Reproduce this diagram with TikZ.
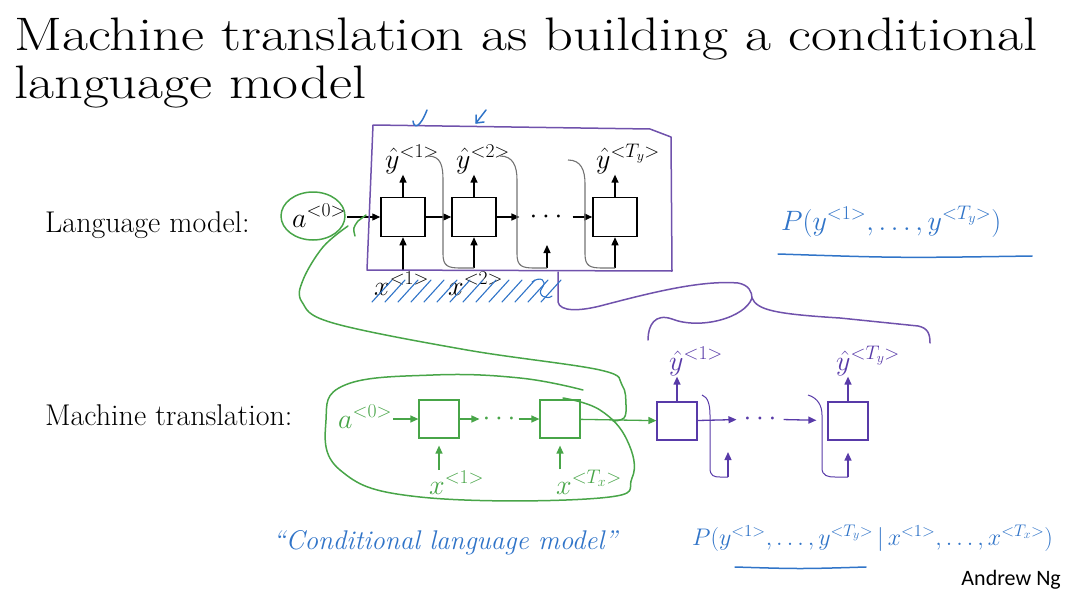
\documentclass[tikz,border=0pt]{standalone}
\usepackage{fix-cm}
\usepackage{fontspec}
\newfontfamily\ngfont{Carlito}
\usetikzlibrary{arrows.meta,positioning}

\definecolor{boxpurple}{RGB}{112,82,172}
\definecolor{decpurple}{RGB}{88,58,168}
\definecolor{pengreen}{RGB}{72,165,72}
\definecolor{penblue}{RGB}{48,116,200}

\begin{document}
\begin{tikzpicture}[
    x=1pt, y=-1pt,
    >={Triangle[length=8pt,width=7pt]},
    % --- node styles -------------------------------------------------
    title/.style={anchor=base west, inner sep=0pt,
        font=\fontsize{47}{50}\selectfont},
    lbl/.style={anchor=base west, inner sep=1pt,
        font=\fontsize{28}{30}\selectfont},
    rowlbl/.style={anchor=base west, inner sep=0pt,
        font=\fontsize{30}{32}\selectfont},
    cell/.style={draw, line width=1.5pt, minimum width=44pt,
        minimum height=39pt, inner sep=0pt},
    smallcell/.style={cell, line width=1.2pt, minimum width=40pt,
        minimum height=38pt},
    dots/.style={inner sep=0pt, font=\fontsize{28}{30}\selectfont},
    % --- line styles -------------------------------------------------
    arr/.style={->, line width=1.3pt},
    feed/.style={draw=black!55, line width=1.1pt},
    pen/.style={line width=1.5pt, line cap=round, line join=round}
]
\useasboundingbox (0,0) rectangle (1081,602);

% --- title --------------------------------------------------------
\node[title] (title1) at (14,51)
    {\scalebox{1.2}[1]{Machine translation as building a conditional}};
\node[title] (title2) at (14,99) {\scalebox{1.2}[1]{language model}};

% --- row labels ---------------------------------------------------
\node[rowlbl] (lmlabel) at (45,232) {Language model:};
\node[rowlbl] (mtlabel) at (45,425) {Machine translation:};

% --- language model RNN -------------------------------------------
\node[cell] (lm1) at (403,217) {};
\node[cell] (lm2) at (474,217) {};
\node[dots, inner xsep=10pt] (lmdots) at (546,217) {$\cdots$};
\node[cell] (lm3) at (615,217) {};

\node[lbl] (lma0) at (291,227) {$a^{<0>}$};
\node[lbl] (lmy1) at (384,168) {$\hat{y}^{<1>}$};
\node[lbl] (lmy2) at (455,168) {$\hat{y}^{<2>}$};
\node[lbl] (lmy3) at (595,168) {$\hat{y}^{<T_y>}$};
\node[lbl] (lmx1) at (373,295) {$x^{<1>}$};
\node[lbl] (lmx2) at (447,295) {$x^{<2>}$};

\draw[arr] (lma0.east |- lm1.west) -- (lm1.west);
\draw[arr] (lm1) -- (lm2);
\draw[arr] (lm2) -- (lmdots);
\draw[arr] (lmdots) -- (lm3);

\draw[arr] (lm1) -- (lm1 |- lmy1.south);
\draw[arr] (lm2) -- (lm2 |- lmy2.south);
\draw[arr] (lm3) -- (lm3 |- lmy3.south);

% inputs fed back from the previous output
\coordinate (lmin2) at (474,268);
\coordinate (lmind) at (547,268);
\coordinate (lmdtip) at (547,245);
\coordinate (lmin3) at (615,268);
\draw[arr] (lm1 |- lmx1.north) -- (lm1);
\draw[arr] (lmin2) -- (lm2);
\draw[arr] (lmind) -- (lmdtip);
\draw[arr] (lmin3) -- (lm3);

\draw[feed] (428,156) .. controls (441,156) and (443,166) .. (443,180)
    -- (443,254) .. controls (443,266) and (448,268) .. (460,268) -- (lmin2);
\draw[feed] (500,156) .. controls (513,156) and (517,166) .. (517,180)
    -- (517,254) .. controls (517,266) and (522,268) .. (534,268) -- (lmind);
\draw[feed] (568,160) .. controls (581,160) and (585,170) .. (585,184)
    -- (585,254) .. controls (585,266) and (590,268) .. (602,268) -- (lmin3);

% --- purple box and braces ----------------------------------------
\draw[boxpurple, pen] (373,125) -- (650,129) -- (671,137) -- (672,271)
    -- (367,270) -- cycle;
\draw[boxpurple, pen] (558,272) -- (558,302)
    .. controls (560,312) and (580,311) .. (600,306)
    .. controls (650,293) and (700,280) .. (738,283)
    .. controls (749,285) and (752,292) .. (752,298);
\draw[boxpurple, pen] (752,298) .. controls (745,318) and (700,330) .. (672,319)
    .. controls (655,313) and (648,325) .. (648,340);
\draw[boxpurple, pen] (752,298) .. controls (757,310) and (775,314) .. (840,318)
    -- (918,326) .. controls (928,328) and (930,334) .. (930,343);

% --- blue pen marks -----------------------------------------------
\foreach \x in {372,385,...,550}
    \draw[penblue, pen, line width=1.1pt] (\x,302) -- (\x+20,280);
\draw[penblue, pen, line width=1.1pt] (532,282) .. controls (540,276) and (548,280) .. (542,288)
    .. controls (536,296) and (548,300) .. (552,296);
\draw[penblue, pen] (413,121) .. controls (414,129) and (420,128) .. (427,110);
\draw[penblue, pen] (486,110) -- (476,123) -- (476,115);
\draw[penblue, pen] (476,123) -- (484,122);

\node[lbl, text=penblue] (plm) at (780,230) {$P(y^{<1>},\ldots,y^{<T_y>})$};
\draw[penblue, pen] (778,254) .. controls (900,258) .. (1032,256);

% --- encoder (green) ----------------------------------------------
\node[smallcell, draw=pengreen] (enc1) at (439,419) {};
\node[dots, text=pengreen, inner xsep=3pt] (encdots) at (499,419) {$\cdots$};
\node[smallcell, draw=pengreen] (enc2) at (560,419) {};

\node[lbl, text=pengreen] (mta0) at (337,428) {$a^{<0>}$};
\node[lbl, text=pengreen] (mtx1) at (428,494) {$x^{<1>}$};
\node[lbl, text=pengreen] (mtx2) at (555,494) {$x^{<T_x>}$};

\draw[arr, pengreen] (mta0.east |- enc1) -- (enc1);
\draw[arr, pengreen] (enc1) -- (encdots);
\draw[arr, pengreen] (encdots) -- (enc2);
\draw[arr, pengreen, shorten >=7pt] (enc1 |- mtx1.north) -- (enc1);
\draw[arr, pengreen, shorten >=7pt] (enc2 |- mtx2.north) -- (enc2);

% --- decoder (purple) ---------------------------------------------
\node[smallcell, draw=decpurple] (dec1) at (677,421) {};
\node[dots, text=decpurple, inner xsep=7pt] (decdots) at (760,419) {$\cdots$};
\node[smallcell, draw=decpurple] (dec2) at (848,421) {};

\node[lbl, text=decpurple] (decy1) at (668,370) {$\hat{y}^{<1>}$};
\node[lbl, text=decpurple] (decy2) at (835,370) {$\hat{y}^{<T_y>}$};

\draw[arr, pengreen] (enc2) -- (dec1);
\draw[arr, decpurple] (dec1) -- (decdots);
\draw[arr, decpurple, shorten >=11pt] (decdots) -- (dec2);
\draw[arr, decpurple] (dec1) -- (dec1 |- decy1.south);
\draw[arr, decpurple] (dec2) -- (dec2 |- decy2.south);

\coordinate (decin2) at (728,477);
\coordinate (decdtip) at (728,452);
\coordinate (decin3) at (848,477);
\draw[arr, decpurple] (decin2) -- (decdtip);
\draw[arr, decpurple, shorten >=12pt] (decin3) -- (dec2);
\draw[decpurple, line width=1pt] (702,395) .. controls (708,397) and (710,405) .. (710,415)
    -- (710,468) .. controls (710,476) and (714,477) .. (720,477) -- (decin2);
\draw[decpurple, line width=1pt] (808,395) .. controls (818,398) and (822,406) .. (822,415)
    -- (822,468) .. controls (822,476) and (828,477) .. (835,477) -- (decin3);

% --- green pen marks ----------------------------------------------
\draw[pengreen, pen] (313,216) ellipse [x radius=32, y radius=24];
\draw[pengreen, pen] (355,236) .. controls (353,228) .. (358,221) -- (366,215);
\draw[pengreen, pen] plot[smooth, tension=0.6] coordinates {(348,226) (323,247)
    (303,280) (302,302) (333,323) (467,350) (600,370) (622,385) (626,405)
    (624,418) (613,421)};
\draw[pengreen, pen] plot[smooth, tension=0.7] coordinates {(583,390) (520,378)
    (433,375) (345,385) (326,420) (340,470) (420,497) (600,498) (632,478)
    (627,440) (600,410) (563,398)};

% --- handwritten notes at the bottom ------------------------------
\node[text=penblue, font=\fontsize{27}{29}\selectfont\itshape] (cond) at (445,543)
    {``Conditional language model''};
\node[anchor=base west, inner sep=0pt, text=penblue, font=\fontsize{24}{26}\selectfont]
    (pmt) at (692,545)
    {$P(y^{<1>},\ldots,y^{<T_y>}\,\big|\,x^{<1>},\ldots,x^{<T_x>})$};
\draw[penblue, pen] (735,567) .. controls (800,569) .. (866,567);

\node[anchor=base east, inner sep=0pt, font=\ngfont\fontsize{22}{24}\selectfont]
    (author) at (1061,585) {Andrew Ng};

\end{tikzpicture}
\end{document}
